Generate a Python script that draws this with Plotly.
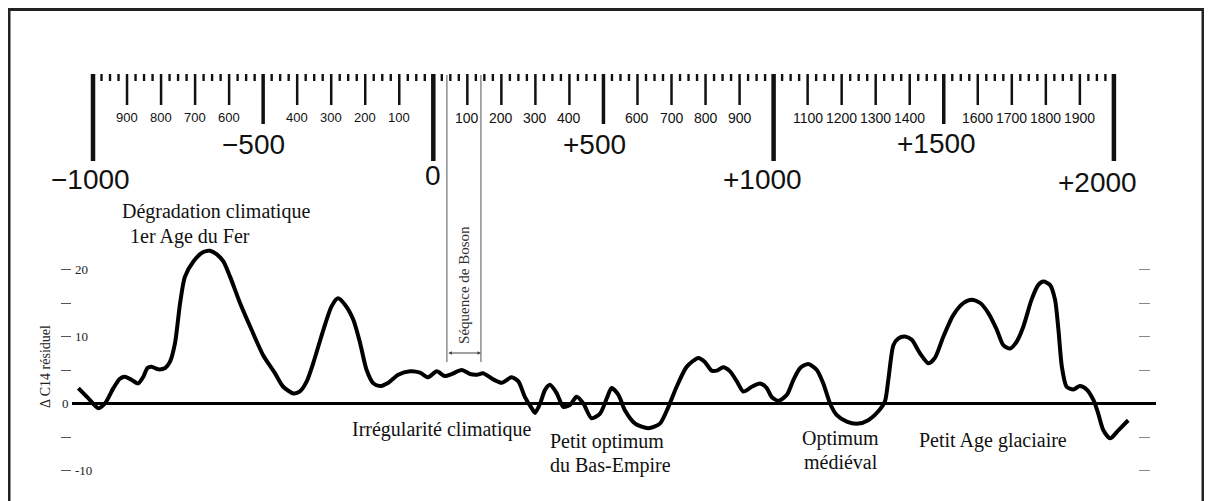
import plotly.graph_objects as go

# ---------------- data ----------------
years = [-1043, -1014, -984, -965, -940, -921, -906, -886, -867, -852, -840, -828, -808, -788,
         -774, -759, -744, -730, -705, -676, -656, -637, -617, -597, -568, -534, -500, -465,
         -441, -411, -392, -372, -353, -323, -299, -280, -259, -235, -215, -196, -176, -157,
         -132, -103, -68, -39, -15, 10, 34, 54, 84, 108, 128, 147, 176, 201, 230, 250, 269,
         289, 299, 314, 328, 343, 363, 382, 402, 421, 441, 465, 490, 510, 524, 544, 563, 593,
         632, 666, 691, 715, 745, 779, 798, 818, 833, 852, 872, 892, 911, 936, 960, 980, 994,
         1014, 1039, 1058, 1078, 1102, 1127, 1146, 1166, 1185, 1215, 1249, 1278, 1307, 1327,
         1337, 1352, 1366, 1386, 1406, 1430, 1455, 1474, 1499, 1528, 1558, 1582, 1607, 1631,
         1656, 1675, 1695, 1714, 1734, 1758, 1778, 1793, 1812, 1827, 1837, 1847, 1861, 1881,
         1900, 1920, 1940, 1954, 1969, 1989, 2013, 2042]
delta_c14 = [2.3, 0.8, -0.7, 0.0, 2.3, 3.7, 4.0, 3.5, 3.0, 4.0, 5.3, 5.5, 5.1, 5.3,
             6.2, 9.0, 15.0, 18.9, 21.2, 22.6, 22.8, 22.3, 21.2, 18.9, 15.0, 11.0, 7.2, 4.5,
             2.5, 1.5, 1.8, 3.3, 6.0, 11.0, 14.5, 15.7, 14.7, 12.5, 9.0, 5.0, 3.0, 2.6,
             3.1, 4.3, 4.8, 4.6, 3.9, 4.8, 4.1, 4.4, 5.0, 4.4, 4.3, 4.5, 3.6, 3.1, 3.9, 3.3, 1.0,
             -0.7, -1.4, 0.0, 2.0, 2.8, 1.5, -0.5, -0.2, 1.0, 0.0, -2.2, -1.5, 0.8, 2.3, 1.3, -1.0, -3.0,
             -3.7, -3.0, -0.5, 2.5, 5.5, 6.8, 6.2, 4.9, 4.9, 5.4, 4.8, 3.3, 1.8, 2.5, 3.0, 2.3, 1.0,
             0.4, 1.3, 3.5, 5.3, 5.9, 5.0, 3.0, 0.0, -1.7, -2.7, -3.0, -2.5, -1.2, 0.3,
             3.5, 8.7, 9.7, 10.0, 9.5, 7.5, 6.0, 6.8, 10.0, 13.2, 15.0, 15.5, 15.0, 13.5,
             11.0, 8.7, 8.2, 9.2, 11.5, 15.5, 17.7, 18.2, 17.7, 15.5, 11.0, 5.5, 2.5, 2.1,
             2.6, 2.1, 0.5, -1.5, -4.0, -5.2, -4.0, -2.5]

ruler_start, ruler_end, ruler_step = -1000, 2000, 25
century_label_years = [-900, -800, -700, -600, -400, -300, -200, -100,
                       100, 200, 300, 400, 600, 700, 800, 900,
                       1100, 1200, 1300, 1400, 1600, 1700, 1800, 1900]
big_label_years = [-1000, -500, 0, 500, 1000, 1500, 2000]
big_label_texts = ["-1000", "-500", "0", "+500", "+1000", "+1500", "+2000"]
boson_years = [40, 140]
ytick_vals = [-10, -5, 5, 10, 15, 20]
ytick_text = ["-10", "", "", "10", "", "20"]

# ---------------- layout helpers ----------------
OFF = 8                      # page body margin offset
W, H = 1212 - OFF, 501 - OFF
PL, PR = 72, 1156            # plot area in screen px
ML, MR = PL - OFF, 1212 - PR
PW = PR - PL
X_RANGE = [-1061.7, 2123.7]
ZERO_PX, PX_PER_UNIT = 403.5, 6.7
Y_RANGE = [(ZERO_PX - (501)) / PX_PER_UNIT, (ZERO_PX - OFF) / PX_PER_UNIT]


def px_x(p):
    return (p - PL) / PW


def px_y(p):
    return 1 - (p - OFF) / H


SERIF = "Liberation Serif, Times New Roman, serif"
SANS = "Liberation Sans, Arial, sans-serif"

fig = go.Figure()
fig.add_trace(go.Scatter(x=years, y=delta_c14, mode="lines",
                         line=dict(color="#000", width=4, shape="spline", smoothing=0.7),
                         hoverinfo="skip", showlegend=False))
fig.add_trace(go.Scatter(x=years, y=delta_c14, mode="none", yaxis="y2",
                         hoverinfo="skip", showlegend=False))

shapes = []
y_top = px_y(74)
for yr in range(ruler_start, ruler_end + 1, ruler_step):
    if yr % 1000 == 0:
        bot, w = 161, 4.5
    elif yr % 500 == 0:
        bot, w = 124, 3.5
    elif yr % 100 == 0:
        bot, w = 105, 2.5
    else:
        bot, w = 81, 2.4
    shapes.append(dict(type="line", xref="x", yref="paper", x0=yr, x1=yr,
                       y0=y_top, y1=px_y(bot), line=dict(color="#111", width=w)))

for yr in boson_years:
    shapes.append(dict(type="line", xref="x", yref="paper", x0=yr, x1=yr,
                       y0=px_y(75), y1=px_y(362), line=dict(color="#555", width=1)))

shapes.append(dict(type="rect", xref="paper", yref="paper",
                   x0=px_x(9), x1=px_x(1203), y0=px_y(520), y1=px_y(9.5),
                   line=dict(color="#222", width=3)))

annotations = []
for yr in century_label_years:
    annotations.append(dict(x=yr, xref="x", y=px_y(117.5), yref="paper",
                            text=str(abs(yr)), showarrow=False,
                            xanchor="center", yanchor="middle",
                            font=dict(family=SANS, size=13 if yr < 0 else 14, color="#111")))

big_shift = [-3, -10, 0, -9, -11, -7, -16]
big_y = [180, 145, 175, 145, 180, 143, 183]
for yr, txt, sh, yy in zip(big_label_years, big_label_texts, big_shift, big_y):
    annotations.append(dict(x=yr, xref="x", y=px_y(yy), yref="paper", xshift=sh,
                            text=txt.replace("-", "\u2212"), showarrow=False,
                            xanchor="center", yanchor="middle",
                            font=dict(family=SANS, size=28, color="#111")))

notes = [
    ("Dégradation climatique", 120, 212, "left"),
    ("1er Age du Fer", 128, 236, "left"),
    ("Irrégularité climatique", 350, 429, "left"),
    ("Petit optimum", 548, 441, "left"),
    ("du Bas-Empire", 548, 465, "left"),
    ("Optimum", 840, 438, "center"),
    ("médiéval", 841, 462, "center"),
    ("Petit Age glaciaire", 917, 440, "left"),
]
for txt, xp, yp, anc in notes:
    annotations.append(dict(x=px_x(xp), xref="paper", y=px_y(yp), yref="paper",
                            text=txt, showarrow=False, xanchor=anc, yanchor="middle",
                            font=dict(family=SERIF, size=20, color="#111")))

annotations.append(dict(x=sum(boson_years) / 2, xref="x", y=px_y(285), yref="paper",
                        text="Séquence de Boson", textangle=-90, showarrow=False,
                        xanchor="center", yanchor="middle",
                        font=dict(family=SERIF, size=15, color="#333")))
annotations.append(dict(x=boson_years[1], xref="x", y=px_y(353), yref="paper",
                        ax=boson_years[0], axref="x", ay=0, ayref="pixel",
                        text="", showarrow=True, arrowhead=2, arrowside="end+start",
                        arrowsize=0.7, arrowwidth=1, arrowcolor="#444",
                        standoff=0, startstandoff=0))

annotations.append(dict(x=px_x(45), xref="paper", y=px_y(367), yref="paper",
                        text="Δ C14 résiduel", textangle=-90, showarrow=False,
                        xanchor="center", yanchor="middle",
                        font=dict(family=SERIF, size=14, color="#222")))
annotations.append(dict(x=px_x(65), xref="paper", y=0, yref="y",
                        text="0", showarrow=False, xanchor="center", yanchor="middle",
                        font=dict(family=SERIF, size=13, color="#222")))

fig.update_layout(
    width=W, height=H,
    margin=dict(l=ML, r=MR, t=0, b=0),
    paper_bgcolor="white", plot_bgcolor="white",
    showlegend=False,
    xaxis=dict(range=X_RANGE, visible=False, fixedrange=True),
    yaxis=dict(range=Y_RANGE, tickvals=ytick_vals, ticktext=ytick_text,
               ticks="outside", ticklen=10, tickwidth=1, tickcolor="#555",
               ticklabelposition="inside",
               showgrid=False, showline=False,
               zeroline=True, zerolinewidth=3, zerolinecolor="#000",
               tickfont=dict(family=SERIF, size=13, color="#222"), fixedrange=True),
    yaxis2=dict(range=Y_RANGE, overlaying="y", anchor="free", side="right",
                position=px_x(1150), tickvals=ytick_vals, ticks="inside", ticklen=11,
                tickwidth=1, tickcolor="#888", showticklabels=False, showgrid=False,
                showline=False, zeroline=False, fixedrange=True),
    shapes=shapes,
    annotations=annotations,
)

fig.write_html("out.html")
